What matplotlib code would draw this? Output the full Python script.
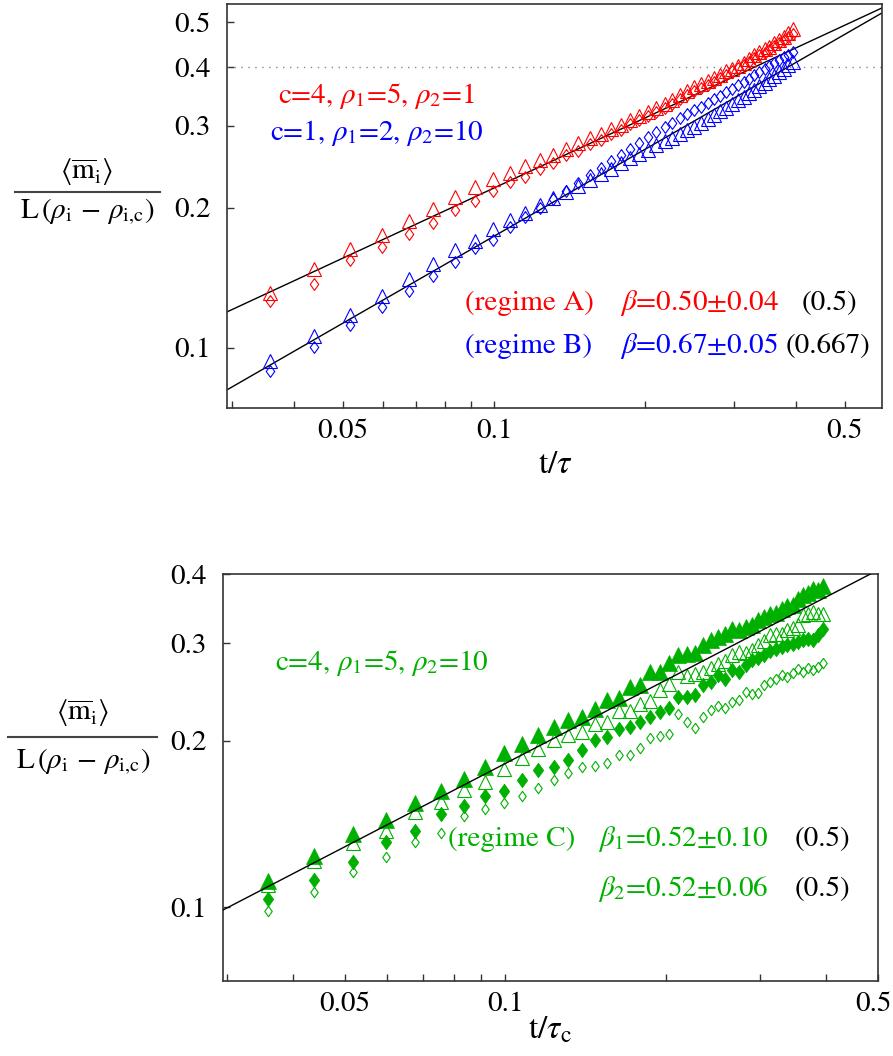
import matplotlib
matplotlib.use("Agg")
import matplotlib.pyplot as plt
from matplotlib.lines import Line2D
from matplotlib.ticker import NullFormatter, NullLocator
from matplotlib.transforms import ScaledTranslation
import numpy as np

plt.rcParams['font.family'] = 'STIXGeneral'
plt.rcParams['mathtext.fontset'] = 'stix'

W, H = 893, 1056

# shared time axis t/tau (same sampling in both panels)
t = [0.0358, 0.0438, 0.0517, 0.0597, 0.0676, 0.0756, 0.0835, 0.0915, 0.0994, 0.1074,
     0.1153, 0.1233, 0.1312, 0.1392, 0.1471, 0.1551, 0.1630, 0.1710, 0.1789, 0.1869,
     0.1948, 0.2028, 0.2107, 0.2187, 0.2266, 0.2346, 0.2425, 0.2505, 0.2584, 0.2664,
     0.2743, 0.2823, 0.2902, 0.2982, 0.3061, 0.3141, 0.3220, 0.3300, 0.3379, 0.3459,
     0.3538, 0.3618, 0.3697, 0.3777, 0.3856, 0.3936]

# top panel: c=4, rho1=5, rho2=1 (red)
red_tri = [0.1314, 0.1474, 0.1633, 0.1747, 0.1875, 0.1988, 0.2113, 0.2220, 0.2301, 0.2378,
           0.2457, 0.2528, 0.2596, 0.2679, 0.2756, 0.2819, 0.2879, 0.2945, 0.3010, 0.3079,
           0.3148, 0.3208, 0.3269, 0.3338, 0.3404, 0.3484, 0.3559, 0.3624, 0.3685, 0.3737,
           0.3792, 0.3859, 0.3924, 0.3977, 0.4031, 0.4082, 0.4169, 0.4252, 0.4311, 0.4374,
           0.4432, 0.4506, 0.4581, 0.4657, 0.4743, 0.4828]
red_dia = [0.1261, 0.1371, 0.1545, 0.1650, 0.1758, 0.1858, 0.1978, 0.2070, 0.2176, 0.2275,
           0.2331, 0.2423, 0.2495, 0.2588, 0.2652, 0.2737, 0.2800, 0.2882, 0.2936, 0.3019,
           0.3077, 0.3148, 0.3215, 0.3273, 0.3345, 0.3417, 0.3483, 0.3551, 0.3610, 0.3669,
           0.3730, 0.3799, 0.3860, 0.3920, 0.3980, 0.4043, 0.4113, 0.4188, 0.4246, 0.4304,
           0.4370, 0.4444, 0.4509, 0.4584, 0.4657, 0.4723]
# top panel: c=1, rho1=2, rho2=10 (blue)
blue_tri = [0.0935, 0.1058, 0.1177, 0.1295, 0.1404, 0.1514, 0.1623, 0.1692, 0.1797, 0.1882,
            0.1949, 0.2024, 0.2095, 0.2165, 0.2231, 0.2297, 0.2362, 0.2426, 0.2489, 0.2551,
            0.2612, 0.2665, 0.2721, 0.2776, 0.2826, 0.2881, 0.2932, 0.2985, 0.3040, 0.3098,
            0.3155, 0.3218, 0.3277, 0.3336, 0.3399, 0.3459, 0.3520, 0.3585, 0.3650, 0.3711,
            0.3778, 0.3842, 0.3905, 0.3973, 0.4041, 0.4109]
blue_dia = [0.0894, 0.1006, 0.1120, 0.1226, 0.1327, 0.1426, 0.1531, 0.1636, 0.1706, 0.1815,
            0.1905, 0.1997, 0.2085, 0.2174, 0.2260, 0.2347, 0.2430, 0.2513, 0.2594, 0.2674,
            0.2751, 0.2832, 0.2903, 0.2973, 0.3040, 0.3108, 0.3172, 0.3234, 0.3297, 0.3356,
            0.3415, 0.3476, 0.3536, 0.3599, 0.3659, 0.3721, 0.3782, 0.3844, 0.3905, 0.3965,
            0.4025, 0.4085, 0.4143, 0.4202, 0.4262, 0.4324]

# bottom panel: c=4, rho1=5, rho2=10 (green)
grn_tri_f = [0.1114, 0.1236, 0.1354, 0.1436, 0.1543, 0.1619, 0.1707, 0.1788, 0.1898, 0.1974,
             0.2045, 0.2116, 0.2176, 0.2206, 0.2284, 0.2364, 0.2387, 0.2498, 0.2523, 0.2660,
             0.2660, 0.2765, 0.2850, 0.2871, 0.2880, 0.2972, 0.3034, 0.3071, 0.3120, 0.3186,
             0.3162, 0.3210, 0.3240, 0.3298, 0.3344, 0.3380, 0.3400, 0.3462, 0.3500, 0.3520,
             0.3609, 0.3660, 0.3700, 0.3762, 0.3740, 0.3800]
grn_tri_o = [0.1095, 0.1211, 0.1303, 0.1373, 0.1486, 0.1549, 0.1626, 0.1684, 0.1780, 0.1861,
             0.1934, 0.2002, 0.2050, 0.2073, 0.2146, 0.2161, 0.2259, 0.2259, 0.2332, 0.2355,
             0.2465, 0.2534, 0.2660, 0.2620, 0.2642, 0.2660, 0.2700, 0.2754, 0.2780, 0.2851,
             0.2890, 0.2880, 0.2911, 0.2972, 0.3030, 0.3097, 0.3110, 0.3120, 0.3162, 0.3200,
             0.3229, 0.3367, 0.3391, 0.3413, 0.3380, 0.3391]
grn_dia_f = [0.1034, 0.1119, 0.1207, 0.1309, 0.1371, 0.1476, 0.1521, 0.1588, 0.1622, 0.1700,
             0.1767, 0.1792, 0.1843, 0.1920, 0.2002, 0.2030, 0.2096, 0.2116, 0.2160, 0.2206,
             0.2253, 0.2290, 0.2397, 0.2397, 0.2414, 0.2516, 0.2551, 0.2623, 0.2580, 0.2679,
             0.2660, 0.2744, 0.2792, 0.2820, 0.2851, 0.2899, 0.2931, 0.2950, 0.2972, 0.2990,
             0.3013, 0.3034, 0.3055, 0.3040, 0.3100, 0.3180]
grn_dia_o = [0.0985, 0.1063, 0.1155, 0.1229, 0.1310, 0.1359, 0.1460, 0.1507, 0.1539, 0.1590,
             0.1640, 0.1700, 0.1745, 0.1792, 0.1800, 0.1825, 0.1881, 0.1881, 0.1940, 0.2017,
             0.2035, 0.2059, 0.2237, 0.2161, 0.2107, 0.2206, 0.2268, 0.2309, 0.2289, 0.2347,
             0.2364, 0.2447, 0.2431, 0.2441, 0.2516, 0.2551, 0.2588, 0.2623, 0.2605, 0.2649,
             0.2690, 0.2660, 0.2700, 0.2680, 0.2720, 0.2760]

# power-law fits drawn in the figure: amplitude, exponent
fit_A = (0.697, 0.50)
fit_B = (0.724, 0.62)
fit_C = (0.575, 0.50)

RED, BLUE, GREEN = '#ff0000', '#0000ff', '#00b000'
diamond = [(0, 1), (0.72, 0), (0, -1), (-0.72, 0), (0, 1)]

fig = plt.figure(figsize=(W / 100, H / 100), dpi=100)


def px(x, y):
    return x / W, 1 - y / H


def style_axes(ax, xlim, ylim, yticks):
    ax.set_xscale('log')
    ax.set_yscale('log')
    ax.set_xlim(*xlim)
    ax.set_ylim(*ylim)
    ax.set_xticks([0.05, 0.1, 0.5], ['0.05', '0.1', '0.5'])
    ax.set_xticks([0.03, 0.04, 0.06, 0.07, 0.08, 0.09, 0.2, 0.3, 0.4], minor=True)
    ax.xaxis.set_minor_formatter(NullFormatter())
    ax.set_yticks(yticks, [str(v) for v in yticks])
    ax.yaxis.set_minor_locator(NullLocator())
    ax.tick_params(which='both', direction='in', length=5, width=1, color='#333333',
                   labelsize=21, top=False, right=False)
    ax.tick_params(axis='x', pad=8)
    ax.tick_params(axis='y', pad=12)
    for s in ax.spines.values():
        s.set_color('#333333')
        s.set_linewidth(1.2)


def ylabel_fraction(cx, y_num, y_rule, y_den, x0, x1):
    fig.text(*px(cx, y_num), r'$\langle\overline{\mathrm{m}}_{\mathrm{i}}\rangle$',
             ha='center', va='center', fontsize=21)
    fig.add_artist(Line2D([x0 / W, x1 / W], [1 - y_rule / H] * 2, color='#444444', lw=1.5,
                          transform=fig.transFigure))
    fig.text(*px(cx, y_den), r'L$\,(\rho_{\mathrm{i}}\,-\,\rho_{\mathrm{i,\!c}})$',
             ha='center', va='center', fontsize=21)


# ---------------- top panel ----------------
ax1 = fig.add_axes([227 / W, 1 - 408 / H, 655 / W, 404 / H])
style_axes(ax1, (0.02938, 0.5928), (0.0743, 0.5472), [0.1, 0.2, 0.3, 0.4, 0.5])
xx = np.logspace(np.log10(0.02938), np.log10(0.5928), 200)
ax1.axhline(0.4, color='#888888', lw=1, ls=(0, (1, 4)))
ax1.plot(xx, fit_A[0] * xx ** fit_A[1], color='black', lw=1)
ax1.plot(xx, fit_B[0] * xx ** fit_B[1], color='black', lw=1)
ax1.plot(t, red_tri, ls='none', marker='^', ms=10, mfc='none', mec=RED, mew=0.8)
ax1.plot(t, red_dia, ls='none', marker=diamond, ms=8.5, mfc='none', mec=RED, mew=0.8)
ax1.plot(t, blue_tri, ls='none', marker='^', ms=10, mfc='none', mec=BLUE, mew=0.8)
ax1.plot(t, blue_dia, ls='none', marker=diamond, ms=8.5, mfc='none', mec=BLUE, mew=0.8)

fs = 21
fig.text(*px(278, 96), r'c=4, $\rho_1$=5, $\rho_2$=1', color=RED, fontsize=fs, va='center')
fig.text(*px(270, 133), r'c=1, $\rho_1$=2, $\rho_2$=10', color=BLUE, fontsize=fs, va='center')
fig.text(*px(465, 303), '(regime A)', color=RED, fontsize=fs, va='center')
fig.text(*px(620, 303), r'$\beta$=0.50$\pm$0.04', color=RED, fontsize=fs, va='center')
fig.text(*px(802, 303), '(0.5)', color='black', fontsize=fs, va='center')
fig.text(*px(465, 346), '(regime B)', color=BLUE, fontsize=fs, va='center')
fig.text(*px(620, 346), r'$\beta$=0.67$\pm$0.05', color=BLUE, fontsize=fs, va='center')
fig.text(*px(786, 346), '(0.667)', color='black', fontsize=fs, va='center')
fig.text(*px(555, 465), r't/$\tau$', fontsize=24, ha='center', va='center')
ylabel_fraction(87, 172, 192, 212, 15, 160)

# ---------------- bottom panel ----------------
ax2 = fig.add_axes([223 / W, 1 - 981 / H, 655 / W, 407 / H])
style_axes(ax2, (0.02951, 0.5), (0.0735, 0.4), [0.1, 0.2, 0.3, 0.4])
# last tick label sits on the figure edge, nudge it inward a little
ax2.get_xticklabels()[-1].set_transform(
    ax2.get_xticklabels()[-1].get_transform() + ScaledTranslation(-5 / 100, 0, fig.dpi_scale_trans))
xx = np.logspace(np.log10(0.02951), np.log10(0.5), 200)
ax2.plot(xx, fit_C[0] * xx ** fit_C[1], color='black', lw=1, zorder=5)
ax2.plot(t, grn_dia_o, ls='none', marker=diamond, ms=7.5, mfc='none', mec=GREEN, mew=0.8)
ax2.plot(t, grn_dia_f, ls='none', marker=diamond, ms=10.5, mfc=GREEN, mec=GREEN, mew=0.5)
ax2.plot(t, grn_tri_o, ls='none', marker='^', ms=10.5, mfc='none', mec=GREEN, mew=0.8)
ax2.plot(t, grn_tri_f, ls='none', marker='^', ms=12, mfc=GREEN, mec=GREEN, mew=0.5)

fig.text(*px(275, 663), r'c=4, $\rho_1$=5, $\rho_2$=10', color=GREEN, fontsize=fs, va='center')
fig.text(*px(448, 839), '(regime C)', color=GREEN, fontsize=fs, va='center')
fig.text(*px(598, 839), r'$\beta_1$=0.52$\pm$0.10', color=GREEN, fontsize=fs, va='center')
fig.text(*px(795, 839), '(0.5)', color='black', fontsize=fs, va='center')
fig.text(*px(598, 889), r'$\beta_2$=0.52$\pm$0.06', color=GREEN, fontsize=fs, va='center')
fig.text(*px(795, 889), '(0.5)', color='black', fontsize=fs, va='center')
fig.text(*px(550, 1030), r't/$\tau_{\mathrm{c}}$', fontsize=24, ha='center', va='center')
ylabel_fraction(83, 713, 737, 762, 8, 157)

fig.savefig('out.png', dpi=100)
